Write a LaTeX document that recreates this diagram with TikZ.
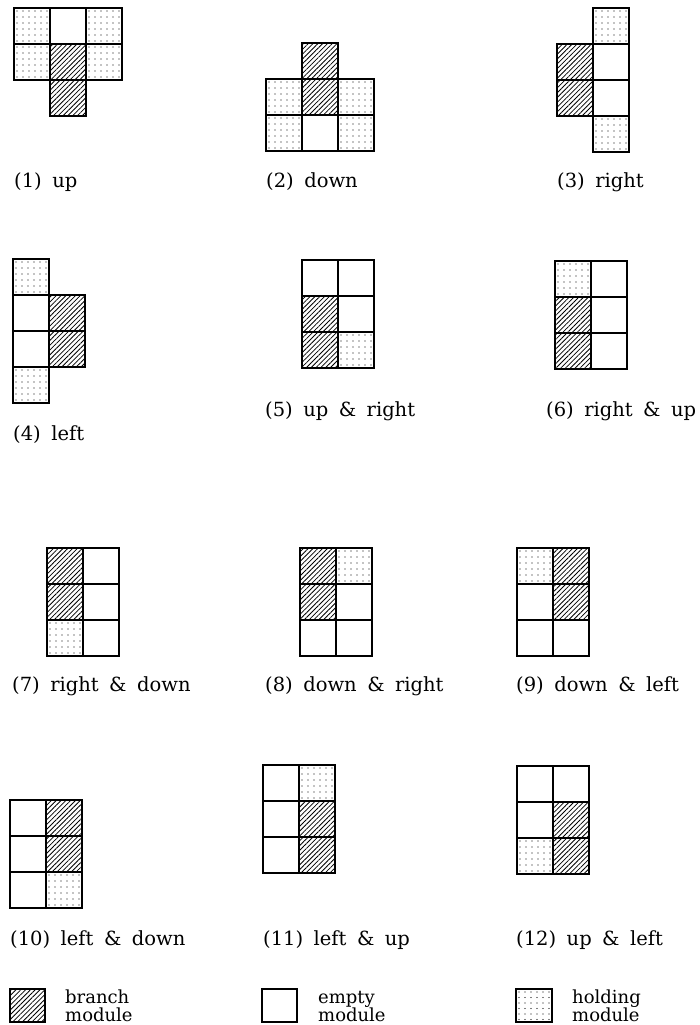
\documentclass[tikz,border=0pt]{standalone}
\usepackage{fontspec}
\setmainfont{DejaVu Serif}
\usetikzlibrary{patterns.meta}
\tikzset{
  cellline/.style={line width=1.3pt, line join=miter},
  hatchfill/.style={pattern={Lines[angle=45,distance=3.4pt,line width=0.8pt]}},
  lbl/.style={anchor=base west, inner sep=0pt, font=\fontsize{19.5}{23}\selectfont},
  leglbl/.style={anchor=base west, inner sep=0pt, font=\fontsize{18}{20}\selectfont},
}
\newcommand\sk{\hspace{10.5pt}}
% #1,#2: top-left corner (px); #3 hatched cells; #4 empty cells; #5 dotted cells (col/row)
\newcommand\modfig[5]{%
  \begin{scope}[shift={(#1,#2)}]
    \foreach \c/\r in {#3} {\fill[hatchfill] (\c*36,\r*36) rectangle ++(36,36);}
    \foreach \c/\r in {#5} {
      \foreach \i in {0,...,5} {\foreach \j in {0,...,5} {
        \fill (\c*36+3+\i*6,\r*36+3+\j*6) circle (0.6pt);}}}
    \foreach \c/\r in {#3,#4,#5} {\draw[cellline] (\c*36,\r*36) rectangle ++(36,36);}
  \end{scope}}
\begin{document}
\begin{tikzpicture}[x=1pt,y=-1pt]
\fill[white] (0,0) rectangle (700,1025);
\useasboundingbox (0,0) rectangle (700,1025);

% row 1
\modfig{14}{8}{1/1,1/2}{1/0}{0/0,2/0,0/1,2/1}
\node[lbl] (l1) at (14,187) {(1)\sk up};
\modfig{266}{43}{1/0,1/1}{1/2}{0/1,2/1,0/2,2/2}
\node[lbl] (l2) at (266,187) {(2)\sk down};
\modfig{557}{8}{0/1,0/2}{1/1,1/2}{1/0,1/3}
\node[lbl] (l3) at (557,187) {(3)\sk right};

% row 2
\modfig{13}{259}{1/1,1/2}{0/1,0/2}{0/0,0/3}
\node[lbl] (l4) at (13,440) {(4)\sk left};
\modfig{302}{260}{0/1,0/2}{0/0,1/0,1/1}{1/2}
\node[lbl] (l5) at (265,416) {(5)\sk up\sk\&\sk right};
\modfig{555}{261}{0/1,0/2}{1/0,1/1,1/2}{0/0}
\node[lbl] (l6) at (546,416) {(6)\sk right\sk\&\sk up};

% row 3
\modfig{47}{548}{0/0,0/1}{1/0,1/1,1/2}{0/2}
\node[lbl] (l7) at (12,691) {(7)\sk right\sk\&\sk down};
\modfig{300}{548}{0/0,0/1}{1/1,0/2,1/2}{1/0}
\node[lbl] (l8) at (265,691) {(8)\sk down\sk\&\sk right};
\modfig{517}{548}{1/0,1/1}{0/1,0/2,1/2}{0/0}
\node[lbl] (l9) at (516,691) {(9)\sk down\sk\&\sk left};

% row 4
\modfig{10}{800}{1/0,1/1}{0/0,0/1,0/2}{1/2}
\node[lbl] (l10) at (10,945) {(10)\sk left\sk\&\sk down};
\modfig{263}{765}{1/1,1/2}{0/0,0/1,0/2}{1/0}
\node[lbl] (l11) at (263,945) {(11)\sk left\sk\&\sk up};
\modfig{517}{766}{1/1,1/2}{0/0,1/0,0/1}{0/2}
\node[lbl] (l12) at (516,945) {(12)\sk up\sk\&\sk left};

% legend
\fill[hatchfill] (10,989) rectangle (45,1022);
\draw[cellline] (10,989) rectangle (45,1022);
\node[leglbl] (lb1) at (65,1003) {branch};
\node[leglbl] (lb2) at (65,1021) {module};

\draw[cellline] (262,989) rectangle (297,1022);
\node[leglbl] (le1) at (318,1003) {empty};
\node[leglbl] (le2) at (318,1021) {module};

\foreach \i in {0,...,5} {\foreach \j in {0,...,5} {
  \fill (519+\i*6,992+\j*5.5) circle (0.6pt);}}
\draw[cellline] (516,989) rectangle (552,1022);
\node[leglbl] (lh1) at (572,1003) {holding};
\node[leglbl] (lh2) at (572,1021) {module};
\end{tikzpicture}
\end{document}
